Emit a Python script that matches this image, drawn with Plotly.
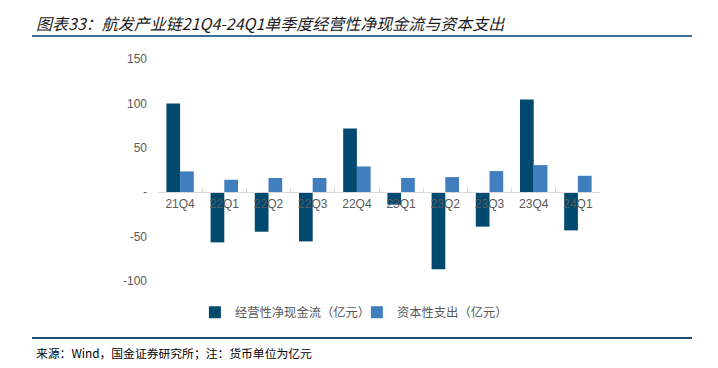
import plotly.graph_objects as go

categories = ["21Q4", "22Q1", "22Q2", "22Q3", "22Q4", "23Q1", "23Q2", "23Q3", "23Q4", "24Q1"]
op_cash_flow = [100, -56.5, -44.5, -55.4, 71.7, -14, -86.7, -38.8, 104.5, -43]
capex = [23.4, 14, 16, 16, 29, 16, 17, 23.8, 30.5, 18.5]
series_names = ["经营性净现金流（亿元）", "资本性支出（亿元）"]
y_ticks = [-100, -50, 0, 50, 100, 150]
y_tick_labels = ["-100", "-50", "-", "50", "100", "150"]

title_text = "图表33：航发产业链21Q4-24Q1单季度经营性净现金流与资本支出"
source_text = "来源：Wind，国金证券研究所；注：货币单位为亿元"

fig = go.Figure()
fig.add_trace(go.Bar(x=categories, y=op_cash_flow, name=series_names[0],
                     marker=dict(color="#004A70", line=dict(width=0))))
fig.add_trace(go.Bar(x=categories, y=capex, name=series_names[1],
                     marker=dict(color="#407EBE", line=dict(width=0))))

font_cjk = "Noto Sans CJK SC, Liberation Sans, sans-serif"

# The page body has an 8px default margin, so the figure is sized/offset to compensate.
fig.update_layout(
    width=702, height=352,
    margin=dict(l=150, r=110, t=51, b=79),
    paper_bgcolor="white", plot_bgcolor="white",
    barmode="group", bargap=0.38, bargroupgap=0,
    showlegend=True,
    legend=dict(orientation="h", x=0.45, xanchor="center", y=-0.075, yanchor="top",
                font=dict(family=font_cjk, size=12.3, color="#595959"),
                itemwidth=30, entrywidth=117, traceorder="normal"),
    font=dict(family="Liberation Sans, Arial, sans-serif", color="#595959"),
    xaxis=dict(
        type="category", anchor="free", position=0.4,
        showline=True, linecolor="#D9D9D9", linewidth=1,
        ticks="inside", tickson="boundaries", ticklen=4, tickcolor="#D9D9D9",
        tickfont=dict(size=12, color="#595959"),
        showgrid=False, zeroline=False, layer="above traces",
    ),
    yaxis=dict(
        range=[-100, 150], tickvals=y_ticks, ticktext=y_tick_labels,
        showgrid=False, zeroline=False, showline=False,
        tickfont=dict(size=12, color="#595959"), ticklabelstandoff=10,
    ),
    shapes=[
        dict(type="line", xref="paper", yref="paper", x0=-0.2851, x1=1.2081,
             y0=1.1036, y1=1.1036, line=dict(color="#3A6E96", width=2)),
        dict(type="line", xref="paper", yref="paper", x0=-0.2851, x1=1.2081,
             y0=-0.257, y1=-0.257, line=dict(color="#1F4E79", width=2)),
    ],
    annotations=[
        dict(text="<i>" + title_text + "</i>", xref="paper", yref="paper",
             x=-0.2805, y=1.164, xanchor="left", yanchor="middle", showarrow=False,
             font=dict(family=font_cjk, size=16, color="#1A1A1A")),
        dict(text=source_text, xref="paper", yref="paper",
             x=-0.2805, y=-0.32, xanchor="left", yanchor="middle", showarrow=False,
             font=dict(family=font_cjk, size=11.8, color="#000000")),
    ],
)

fig.write_html("out.html")
